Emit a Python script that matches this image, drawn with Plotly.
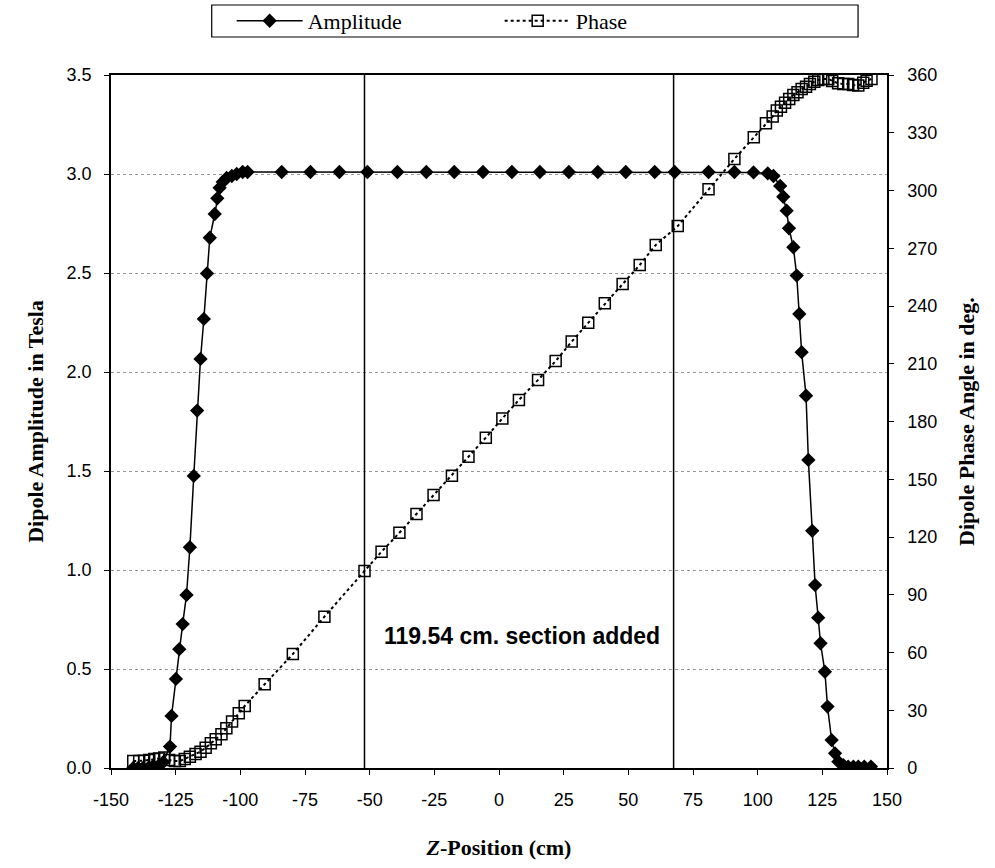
import plotly.graph_objects as go

# ---------------- data ----------------
amp_z = [-141.4, -139.5, -137.6, -135.6, -133.7, -131.7, -129.8, -127.2, -126.6, -124.9,
         -123.6, -122.3, -120.8, -119.5, -118.0, -116.7, -115.4, -114.1, -112.9, -111.8,
         -109.9, -108.9, -108.0, -106.8, -105.3, -103.3, -101.4, -99.1, -97.2,
         -84.0, -72.9, -61.7, -50.9, -39.3, -28.1, -17.3, -6.2, 5.0, 15.8, 27.0, 38.2,
         49.0, 60.2, 67.9, 81.0, 91.0, 98.4, 103.9, 106.1, 108.7, 109.9, 111.2, 112.1,
         113.8, 115.1, 116.1, 117.0, 118.7, 119.6, 121.1, 122.2, 123.4, 124.3, 126.0,
         127.0, 128.6, 129.9, 131.2, 133.1, 135.0, 137.0, 138.9, 141.2, 143.8]
amp_vals = [0.0, 0.0, 0.0, 0.0, 0.01, 0.01, 0.03, 0.108, 0.263, 0.45,
            0.60, 0.727, 0.874, 1.115, 1.475, 1.805, 2.066, 2.268, 2.498, 2.678,
            2.798, 2.877, 2.93, 2.96, 2.98, 2.99, 3.0, 3.01, 3.01,
            3.01, 3.01, 3.01, 3.01, 3.01, 3.01, 3.01, 3.01, 3.01, 3.01, 3.01, 3.01,
            3.01, 3.01, 3.01, 3.01, 3.01, 3.008, 3.003, 2.99, 2.94, 2.885, 2.815, 2.726,
            2.63, 2.487, 2.293, 2.1, 1.88, 1.556, 1.198, 0.924, 0.759, 0.63, 0.486,
            0.31, 0.141, 0.074, 0.032, 0.015, 0.007, 0.007, 0.007, 0.007, 0.007]

phase_z = [-141.4, -139.1, -137.2, -135.2, -133.3, -131.4, -129.4, -127.5, -125.3, -123.4,
           -121.5, -119.5, -117.3, -115.4, -113.4, -111.4, -109.5, -107.3, -105.4, -103.2,
           -100.6, -98.3, -90.6, -79.7, -67.5, -52.0, -45.4, -38.5, -31.9, -25.3,
           -18.2, -11.8, -5.1, 1.3, 7.7, 15.1, 21.9, 28.1, 34.5, 40.9,
           47.8, 54.4, 60.6, 69.1, 81.0, 91.0, 98.5, 103.2, 105.8, 107.4,
           109.0, 110.6, 112.2, 113.8, 115.4, 117.0, 118.7, 120.2, 121.9, 123.4,
           125.4, 127.3, 128.8, 131.1, 133.1, 135.0, 136.9, 138.9, 140.8, 142.1, 144.0]
phase_vals = [3.6, 3.6, 3.8, 4.2, 4.7, 5.0, 5.4, 4.2, 3.6, 3.6,
              4.7, 5.9, 7.3, 8.5, 10.5, 12.8, 14.9, 17.5, 20.6, 24.1,
              28.4, 32.2, 43.5, 59.2, 78.6, 102.3, 112.4, 122.2, 131.9, 141.8,
              151.8, 161.7, 171.6, 181.6, 191.2, 201.6, 211.4, 221.5, 231.3, 241.4,
              251.4, 261.3, 271.7, 281.5, 300.7, 316.4, 327.6, 334.9, 338.4, 341.5,
              343.5, 345.6, 347.5, 349.6, 351.0, 352.7, 353.9, 355.3, 356.5, 357.4,
              357.9, 357.9, 356.9, 355.7, 355.3, 355.3, 354.8, 354.5, 356.0, 357.0, 357.9]

section_bounds = [-52.0, 67.5]
x_ticks = [-150, -125, -100, -75, -50, -25, 0, 25, 50, 75, 100, 125, 150]
x_tick_labels = ["-150", "-125", "-100", "-75", "-50", "-25", "0", "25", "50", "75", "100", "125", "150"]
y_ticks = [0.0, 0.5, 1.0, 1.5, 2.0, 2.5, 3.0, 3.5]
y2_ticks = [0, 30, 60, 90, 120, 150, 180, 210, 240, 270, 300, 330, 360]
section_label = "119.54 cm. section added"

# ---------------- figure ----------------
fig = go.Figure()
fig.add_trace(go.Scatter(
    x=amp_z, y=amp_vals, name="Amplitude", mode="lines+markers",
    line=dict(color="black", width=1.5),
    marker=dict(symbol="diamond", size=11, color="black"),
    yaxis="y"))
fig.add_trace(go.Scatter(
    x=phase_z, y=phase_vals, name="Phase", mode="lines+markers",
    line=dict(color="black", width=2, dash="dot"),
    marker=dict(symbol="square-open", size=11, color="black", line=dict(width=1.5)),
    yaxis="y2"))

for xb in section_bounds:
    fig.add_shape(type="line", xref="x", yref="y", x0=xb, x1=xb, y0=0, y1=3.5,
                  line=dict(color="black", width=1.5))

# legend frame (wider than the legend items, as in the original)
fig.add_shape(type="rect", xref="paper", yref="paper", x0=0.1298, x1=0.9627, y0=1.0548, y1=1.101,
              line=dict(color="black", width=1.2), fillcolor="rgba(0,0,0,0)")

fig.add_annotation(text=f"<b>{section_label}</b>", x=8.9, y=0.667, xref="x", yref="y",
                   showarrow=False,
                   font=dict(family="Liberation Sans, Arial", size=23, color="black"))

tickfont = dict(family="Liberation Sans, Arial", size=18, color="black")
titlefont = dict(family="Liberation Serif, Times New Roman", size=22, color="black")

fig.update_layout(
    width=995, height=868,
    margin=dict(l=111, r=108, t=75, b=100, autoexpand=False),
    paper_bgcolor="white", plot_bgcolor="white",
    showlegend=True,
    legend=dict(orientation="h", x=0.1555, y=1.078, xanchor="left", yanchor="middle",
                borderwidth=0, bgcolor="rgba(0,0,0,0)",
                font=dict(family="Liberation Serif, Times New Roman", size=22, color="black"),
                entrywidth=187, entrywidthmode="pixels",
                itemwidth=66, tracegroupgap=0),
    xaxis=dict(range=[-150, 150], tickvals=x_ticks, ticktext=x_tick_labels, automargin=False,
               showgrid=False, zeroline=False, showline=True, linecolor="black", linewidth=1.5,
               mirror=True, ticks="outside", ticklen=5, tickcolor="black", tickfont=tickfont,
               ticklabelstandoff=10,
               title=dict(text="<b><i>Z</i>-Position (cm)</b>", font=titlefont, standoff=30)),
    yaxis=dict(range=[0, 3.5], tickvals=y_ticks, tickformat=".1f", automargin=False,
               showgrid=True, gridcolor="#999999", griddash="dot", gridwidth=1,
               zeroline=False, showline=True, linecolor="black", linewidth=1.5,
               ticks="outside", ticklen=5, tickcolor="black", tickfont=tickfont,
               ticklabelstandoff=9,
               title=dict(text="<b>Dipole Amplitude in Tesla</b>", font=titlefont, standoff=17)),
    yaxis2=dict(range=[0, 360], tickvals=y2_ticks, overlaying="y", side="right", automargin=False,
                showgrid=False, zeroline=False, showline=True, linecolor="black", linewidth=1.5,
                ticks="outside", ticklen=5, tickcolor="black", tickfont=tickfont,
                ticklabelstandoff=10,
                title=dict(text="<b>Dipole Phase Angle in deg.</b>", font=titlefont, standoff=22)),
)

fig.write_html("out.html", config={"displayModeBar": False},
               post_script="document.body.style.margin='0';")
